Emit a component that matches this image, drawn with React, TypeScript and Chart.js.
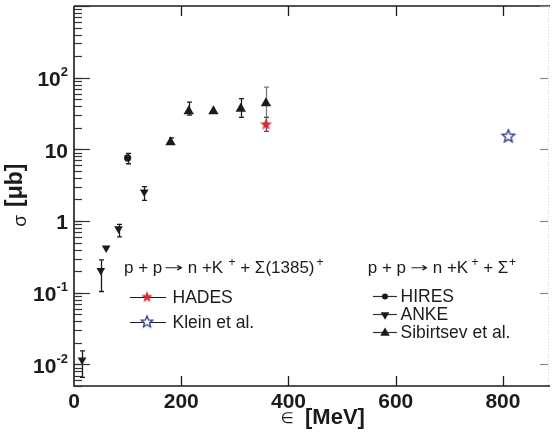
import React, { useEffect, useRef } from 'react';
import { Chart, registerables } from 'chart.js';
Chart.register(...registerables);

// ---- data ----
const xTicks = [0, 200, 400, 600, 800];
const xTickLabels = ['0', '200', '400', '600', '800'];
const yDecades = [0.01, 0.1, 1, 10, 100, 1000];
const yTickBase = ['10', '10', '1', '10', '10', ''];
const yTickExp = ['-2', '-1', '', '', '2', ''];

const hiresX = [100];
const hiresY = [7.6];
const hiresLo = [6.3];
const hiresHi = [8.8];

const ankeX = [15, 50, 60, 83, 131];
const ankeY = [0.0115, 0.205, 0.42, 0.78, 2.55];
const ankeLo = [0.0066, 0.104, null, 0.6, 1.94];
const ankeHi = [0.0155, 0.287, null, 0.9, 3.03];

const sibX = [180, 214, 260, 311, 358];
const sibY = [12.6, 34, 34, 37, 44];
const sibLo = [11.8, 30, null, 28, 28];
const sibHi = [14.5, 45.5, null, 51, 74];

const hadesX = [358];
const hadesY = [22.7];
const hadesLo = [17.8];
const hadesHi = [28];

const kleinX = [810];
const kleinY = [15.5];

const X_MIN = 0;
const X_MAX = 884;
const Y_MIN = 0.005;
const Y_MAX = 1000;

const BLACK = '#1b1b1b';
const RED = '#e8232c';
const BLUE = '#2c3996';

function pts(xs: number[], ys: number[]) {
  return xs.map((x, i) => ({ x, y: ys[i] }));
}

function starCanvas(R: number, fill: string | null, stroke: string | null, lw: number, inner = 0.42) {
  const pad = 2;
  const s = Math.ceil(2 * R + 2 * pad);
  const c = document.createElement('canvas');
  c.width = s;
  c.height = s;
  const g = c.getContext('2d')!;
  const cx = s / 2;
  const cy = s / 2 + R * 0.1;
  g.beginPath();
  for (let i = 0; i < 10; i++) {
    const a = -Math.PI / 2 + (i * Math.PI) / 5;
    const r = i % 2 ? R * inner : R;
    const px = cx + Math.cos(a) * r;
    const py = cy + Math.sin(a) * r;
    if (i === 0) g.moveTo(px, py);
    else g.lineTo(px, py);
  }
  g.closePath();
  if (fill) {
    g.fillStyle = fill;
    g.fill();
  }
  if (stroke) {
    g.lineWidth = lw;
    g.strokeStyle = stroke;
    g.lineJoin = 'miter';
    g.stroke();
  }
  return c;
}

const errPlugin = {
  id: 'errbars',
  beforeDatasetsDraw(chart: any) {
    const ctx = chart.ctx;
    const xs = chart.scales.x;
    const ys = chart.scales.y;
    chart.data.datasets.forEach((ds: any) => {
      if (!ds.errLo) return;
      ds.data.forEach((p: any, i: number) => {
        const lo = ds.errLo[i];
        const hi = ds.errHi[i];
        if (lo == null || hi == null) return;
        const px = Math.round(xs.getPixelForValue(p.x)) + 0.5;
        const y1 = ys.getPixelForValue(lo);
        const y2 = ys.getPixelForValue(hi);
        ctx.save();
        ctx.strokeStyle = ds.errColor ? ds.errColor[i] : BLACK;
        ctx.lineWidth = 1.3;
        ctx.beginPath();
        ctx.moveTo(px, y1);
        ctx.lineTo(px, y2);
        ctx.moveTo(px - 2.5, y1);
        ctx.lineTo(px + 2.5, y1);
        ctx.moveTo(px - 2.5, y2);
        ctx.lineTo(px + 2.5, y2);
        ctx.stroke();
        ctx.restore();
      });
    });
  },
};

function drawTri(ctx: CanvasRenderingContext2D, x: number, y: number, r: number, down: boolean) {
  const s = down ? -1 : 1;
  ctx.beginPath();
  ctx.moveTo(x, y - s * r);
  ctx.lineTo(x + r * 0.866, y + s * r * 0.5);
  ctx.lineTo(x - r * 0.866, y + s * r * 0.5);
  ctx.closePath();
  ctx.fill();
}

type Seg = { t: string; sup?: boolean; gap?: number; w?: number; font?: string; dy?: number };

function drawFlow(
  ctx: CanvasRenderingContext2D,
  segs: Seg[],
  x0: number,
  y: number,
  font: string,
  supFont: string,
  rise: number
) {
  let cx = x0;
  segs.forEach((s) => {
    cx += s.gap || 0;
    ctx.font = s.font ? s.font : s.sup ? supFont : font;
    const mw = ctx.measureText(s.t).width;
    const yy = (s.sup ? y - rise : y) + (s.dy || 0);
    if (s.w) {
      ctx.save();
      ctx.translate(cx, yy);
      ctx.scale(s.w / mw, 1);
      ctx.fillText(s.t, 0, 0);
      ctx.restore();
      cx += s.w;
    } else {
      ctx.fillText(s.t, cx, yy);
      cx += mw;
    }
  });
}

function makeAxesPlugin(legendStars: { hades: HTMLCanvasElement; klein: HTMLCanvasElement }) {
  return {
    id: 'axesdraw',
    afterDraw(chart: any) {
      const ctx: CanvasRenderingContext2D = chart.ctx;
      const xs = chart.scales.x;
      const ys = chart.scales.y;
      const { left, right, top, bottom } = chart.chartArea;
      ctx.save();
      ctx.fillStyle = BLACK;
      ctx.strokeStyle = BLACK;

      // frame
      ctx.lineWidth = 1.6;
      ctx.beginPath();
      ctx.moveTo(left, top);
      ctx.lineTo(right + 2, top);
      ctx.moveTo(left, top);
      ctx.lineTo(left, bottom);
      ctx.lineTo(right + 2, bottom);
      ctx.stroke();

      // right dotted faint line
      ctx.save();
      ctx.strokeStyle = '#cfcfcf';
      ctx.lineWidth = 1;
      ctx.setLineDash([1, 2]);
      ctx.beginPath();
      ctx.moveTo(right + 0.5, top);
      ctx.lineTo(right + 0.5, bottom);
      ctx.stroke();
      ctx.restore();

      // x ticks
      ctx.lineWidth = 1.3;
      xTicks.forEach((v) => {
        const px = Math.round(xs.getPixelForValue(v)) + 0.5;
        if (v !== X_MIN) {
          ctx.beginPath();
          ctx.moveTo(px, bottom);
          ctx.lineTo(px, bottom - 10);
          ctx.moveTo(px, top);
          ctx.lineTo(px, top + 10);
          ctx.stroke();
        }
      });
      ctx.font = 'bold 21px "Liberation Sans", Arial, sans-serif';
      ctx.textAlign = 'center';
      ctx.textBaseline = 'alphabetic';
      xTicks.forEach((v, i) => {
        const px = xs.getPixelForValue(v);
        ctx.fillText(xTickLabels[i], px, 407.5);
      });

      // y ticks (left): major + minor
      ctx.lineWidth = 1.2;
      ctx.strokeStyle = '#333';
      yDecades.forEach((d) => {
        for (let m = 1; m <= 9; m++) {
          const v = d * m * 0.1;
          if (v < Y_MIN - 1e-12 || v > Y_MAX + 1e-9) continue;
          const py = Math.round(ys.getPixelForValue(v)) + 0.5;
          ctx.beginPath();
          ctx.moveTo(left, py);
          ctx.lineTo(left + 8, py);
          ctx.stroke();
        }
        const py = Math.round(ys.getPixelForValue(d)) + 0.5;
        if (d >= Y_MIN && d <= Y_MAX) {
          ctx.beginPath();
          ctx.moveTo(left, py);
          ctx.lineTo(left + 16, py);
          ctx.stroke();
          // right ticks
          ctx.save();
          ctx.strokeStyle = '#8a8a8a';
          ctx.beginPath();
          ctx.moveTo(right, py);
          ctx.lineTo(right - 8, py);
          ctx.stroke();
          ctx.restore();
        }
      });
      // y labels
      ctx.textAlign = 'left';
      ctx.textBaseline = 'middle';
      yDecades.forEach((d, i) => {
        const base = yTickBase[i];
        if (!base) return;
        const py = ys.getPixelForValue(d);
        const exp = yTickExp[i];
        ctx.font = 'bold 13px "Liberation Sans", Arial, sans-serif';
        const ew = exp ? ctx.measureText(exp).width : 0;
        ctx.font = 'bold 21px "Liberation Sans", Arial, sans-serif';
        const bw = ctx.measureText(base).width;
        const xr = 68;
        const x0 = xr - ew - bw;
        ctx.fillText(base, x0, py + 2.5);
        if (exp) {
          ctx.font = 'bold 13px "Liberation Sans", Arial, sans-serif';
          ctx.fillText(exp, x0 + bw, py - 5);
        }
      });

      // axis titles
      ctx.textBaseline = 'alphabetic';
      ctx.textAlign = 'left';
      ctx.font = '15px "DejaVu Sans", sans-serif';
      ctx.fillText('\u2208', 280.5, 423);
      ctx.font = 'bold 22px "Liberation Sans", Arial, sans-serif';
      ctx.fillText('[MeV]', 305, 423.5);

      ctx.save();
      ctx.translate(16, 207);
      ctx.rotate(-Math.PI / 2);
      ctx.textBaseline = 'middle';
      ctx.font = 'bold 23px "Liberation Sans", Arial, sans-serif';
      ctx.fillText('[\u03bcb]', 0, 0);
      ctx.restore();
      ctx.save();
      ctx.translate(21, 221);
      ctx.rotate(-Math.PI / 2);
      ctx.textAlign = 'center';
      ctx.textBaseline = 'middle';
      ctx.font = '19px "Liberation Sans", Arial, sans-serif';
      ctx.fillText('\u03c3', 0, 0);
      ctx.restore();

      // reaction labels
      const f = '17px "Liberation Sans", Arial, sans-serif';
      const sf = '12px "Liberation Sans", Arial, sans-serif';
      const af = '13px "DejaVu Sans", sans-serif';
      ctx.textAlign = 'left';
      ctx.textBaseline = 'alphabetic';
      drawFlow(
        ctx,
        [
          { t: 'p + p' },
          { t: '\u2192', gap: 1.7, w: 19, font: af, dy: -0.5 },
          { t: ' n +K' },
          { t: ' +', sup: true, gap: 2 },
          { t: ' + \u03a3(1385)' },
          { t: '+', sup: true, gap: 2 },
        ],
        124,
        272.5,
        f,
        sf,
        7
      );
      drawFlow(
        ctx,
        [
          { t: 'p + p' },
          { t: '\u2192', gap: 4, w: 18, font: af, dy: -0.5 },
          { t: ' n +K' },
          { t: ' +', sup: true },
          { t: ' + \u03a3' },
          { t: '+', sup: true, gap: 0.5 },
        ],
        367.7,
        272.5,
        f,
        sf,
        7
      );

      // legend left
      const lf = '17.5px "Liberation Sans", Arial, sans-serif';
      ctx.font = lf;
      ctx.lineWidth = 1.2;
      ctx.strokeStyle = BLACK;
      const leftRows = [
        { y: 296.5, label: 'HADES', img: legendStars.hades },
        { y: 321.5, label: 'Klein et al.', img: legendStars.klein },
      ];
      leftRows.forEach((r) => {
        ctx.beginPath();
        ctx.moveTo(130, Math.round(r.y) + 0.5);
        ctx.lineTo(166, Math.round(r.y) + 0.5);
        ctx.stroke();
        ctx.drawImage(r.img, 147 - r.img.width / 2, r.y - r.img.height / 2);
        ctx.fillText(r.label, 172.5, r.y + 6.3);
      });

      // legend right
      const rightRows = [
        { y: 296, label: 'HIRES', kind: 'circle' },
        { y: 314.2, label: 'ANKE', kind: 'down' },
        { y: 332.4, label: 'Sibirtsev et al.', kind: 'up' },
      ];
      rightRows.forEach((r) => {
        ctx.strokeStyle = '#333';
        ctx.beginPath();
        ctx.moveTo(373, Math.round(r.y) + 0.5);
        ctx.lineTo(397, Math.round(r.y) + 0.5);
        ctx.stroke();
        ctx.fillStyle = BLACK;
        if (r.kind === 'circle') {
          ctx.beginPath();
          ctx.arc(385, r.y + 0.5, 3, 0, Math.PI * 2);
          ctx.fill();
        } else if (r.kind === 'down') {
          drawTri(ctx, 385, r.y + 0.5, 5, true);
        } else {
          drawTri(ctx, 385, r.y + 0.5, 5.5, false);
        }
        ctx.font = lf;
        ctx.fillText(r.label, 400.5, r.y + 6);
      });

      ctx.restore();
    },
  };
}

export default function App() {
  const ref = useRef<HTMLCanvasElement>(null);
  useEffect(() => {
    const hadesStar = starCanvas(6.2, RED, null, 0, 0.42);
    const kleinStar = starCanvas(6.6, '#ffffff', BLUE, 1.4, 0.45);
    const hadesLeg = starCanvas(6, RED, null, 0, 0.42);
    const kleinLeg = starCanvas(6, '#ffffff', BLUE, 1.3, 0.45);

    const chart = new Chart(ref.current!, {
      type: 'scatter',
      data: {
        datasets: [
          {
            label: 'HIRES',
            data: pts(hiresX, hiresY),
            pointStyle: 'circle',
            pointRadius: 3.6,
            backgroundColor: BLACK,
            borderColor: BLACK,
            borderWidth: 0,
            errLo: hiresLo,
            errHi: hiresHi,
          } as any,
          {
            label: 'ANKE',
            data: pts(ankeX, ankeY),
            pointStyle: 'triangle',
            rotation: 180,
            pointRadius: 5,
            backgroundColor: BLACK,
            borderColor: BLACK,
            borderWidth: 0,
            errLo: ankeLo,
            errHi: ankeHi,
          } as any,
          {
            label: 'Sibirtsev et al.',
            data: pts(sibX, sibY),
            pointStyle: 'triangle',
            pointRadius: 6,
            backgroundColor: BLACK,
            borderColor: BLACK,
            borderWidth: 0,
            errLo: sibLo,
            errHi: sibHi,
            errColor: [BLACK, BLACK, BLACK, BLACK, '#7a7a7a'],
          } as any,
          {
            label: 'HADES',
            data: pts(hadesX, hadesY),
            pointStyle: hadesStar,
            errLo: hadesLo,
            errHi: hadesHi,
            errColor: ['#555'],
          } as any,
          {
            label: 'Klein et al.',
            data: pts(kleinX, kleinY),
            pointStyle: kleinStar,
          } as any,
        ],
      },
      options: {
        animation: false,
        responsive: false,
        devicePixelRatio: 1,
        layout: { padding: { left: 74, top: 6, right: 1, bottom: 48 } },
        plugins: { legend: { display: false }, tooltip: { enabled: false } },
        scales: {
          x: { type: 'linear', min: X_MIN, max: X_MAX, display: false },
          y: { type: 'logarithmic', min: Y_MIN, max: Y_MAX, display: false },
        },
      },
      plugins: [errPlugin, makeAxesPlugin({ hades: hadesLeg, klein: kleinLeg })],
    } as any);
    return () => chart.destroy();
  }, []);
  return (
    <div style={{ position: 'absolute', left: 0, top: 0, width: 554, height: 434, background: '#fff' }}>
      <canvas ref={ref} width={554} height={434} style={{ display: 'block' }} />
    </div>
  );
}
